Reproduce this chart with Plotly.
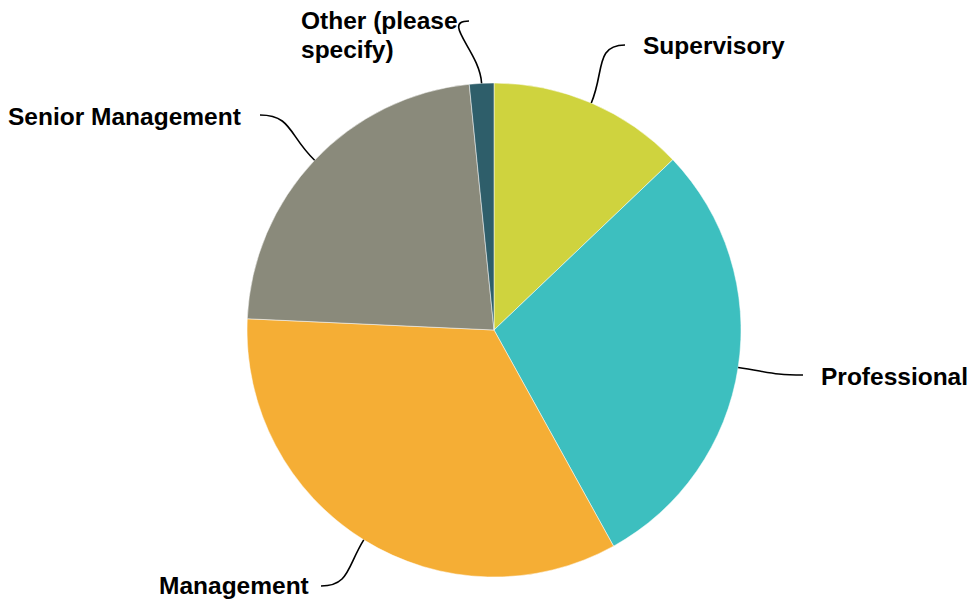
import math
import plotly.graph_objects as go

# ---- data ----
categories = ["Supervisory", "Professional", "Management", "Senior Management", "Other (please specify)"]
shares = [12.9, 29.1, 33.8, 22.7, 1.6]
label_lines = [["Supervisory"], ["Professional"], ["Management"], ["Senior Management"],
               ["Other (please", "specify)"]]

# ---- styles / layout ----
colors = ["#CFD33E", "#3DBFBF", "#F5AE35", "#8A8A7B", "#2E5E6A"]
PAGE_OFF = 8            # browser body margin
W, H = 960, 592         # figure size
CX, CY, R = 494, 330, 247  # pie centre / radius in window pixels
LINE_GAP = 28
# label anchor (window pixels, first-line centre), anchor side
label_anchor = [(641, 45, "left"), (819, 376, "left"), (311, 585, "right"),
                (243, 116, "right"), (299, 21, "left")]
line_end = [(625, 45), (803, 375), (321, 586), (260, 115), (469, 21)]

FONT = "Liberation Sans, Arial, sans-serif"


def px2paper(x, y):
    return (x - PAGE_OFF) / W, 1 - (y - PAGE_OFF) / H


x0, y1 = px2paper(CX - R, CY - R)
x1, y0 = px2paper(CX + R, CY + R)

fig = go.Figure(go.Pie(
    labels=categories, values=shares, sort=False, direction="clockwise", rotation=0,
    marker=dict(colors=colors, line=dict(color="white", width=0.5)),
    textinfo="none", hoverinfo="label+percent", showlegend=False,
    domain=dict(x=[x0, x1], y=[y0, y1]),
))

total = sum(shares)
cum = 0
shapes, annotations = [], []
for i, v in enumerate(shares):
    mid = (cum + v / 2) / total * 2 * math.pi
    cum += v
    ux, uy = math.sin(mid), -math.cos(mid)
    P = (CX + R * ux, CY + R * uy)
    E = line_end[i]
    lx, ly, side = label_anchor[i]
    d = math.hypot(E[0] - P[0], E[1] - P[1])
    c1 = (P[0] + ux * d * 0.5, P[1] + uy * d * 0.5)
    hdir = 1 if side == "left" else -1
    c2 = (E[0] - hdir * d * 0.45, E[1])
    pts = [px2paper(*p) for p in (P, c1, c2, E)]
    path = "M {:.5f},{:.5f} C {:.5f},{:.5f} {:.5f},{:.5f} {:.5f},{:.5f}".format(
        *pts[0], *pts[1], *pts[2], *pts[3])
    shapes.append(dict(type="path", path=path, xref="paper", yref="paper",
                       line=dict(color="black", width=1.6)))
    for k, txt in enumerate(label_lines[i]):
        ax, ay = px2paper(lx, ly + k * LINE_GAP)
        annotations.append(dict(
            text="<b>" + txt + "</b>", x=ax, y=ay, xref="paper", yref="paper",
            xanchor=side, yanchor="middle", align="left", showarrow=False,
            font=dict(family=FONT, size=24.5, color="black")))

fig.update_layout(
    width=W, height=H, margin=dict(l=0, r=0, t=0, b=0),
    paper_bgcolor="white", plot_bgcolor="white",
    shapes=shapes, annotations=annotations,
)
fig.write_html("out.html")
